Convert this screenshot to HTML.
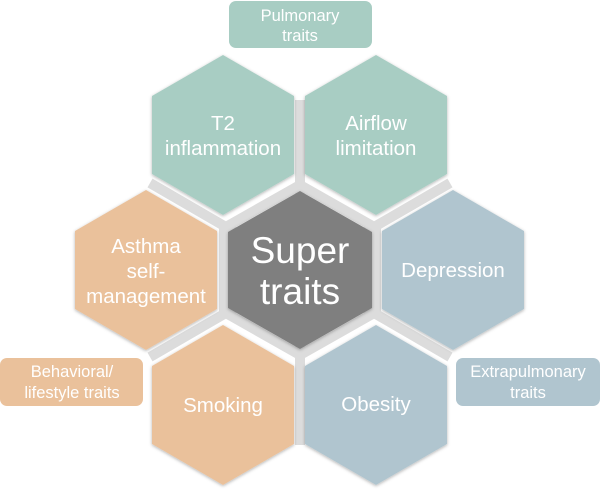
<!DOCTYPE html>
<html><head><meta charset="utf-8"><style>
html,body{margin:0;padding:0;background:#fff;width:600px;height:491px;overflow:hidden}
svg text{font-family:"Liberation Sans",sans-serif;fill:#fff;text-anchor:middle}
</style></head><body>
<svg width="600" height="491" viewBox="0 0 600 491">
<defs>
<filter id="sh" x="-10%" y="-10%" width="120%" height="120%"><feDropShadow dx="0" dy="1" stdDeviation="1.5" flood-color="#000" flood-opacity="0.3"/></filter>
</defs>
<g stroke="#dcdcdc" stroke-width="10" fill="none">
<line x1="300" y1="100" x2="300" y2="445"/>
<line x1="150" y1="183" x2="450" y2="357"/>
<line x1="150" y1="357" x2="450" y2="183"/>
<polygon points="300,185 376,228 376,312 300,355 224,312 224,228"/>
</g>
<g filter="url(#sh)">
<polygon fill="#a8cdc3" points="223,55 294,96 294,174 223,215 152,174 152,96"/>
<polygon fill="#a8cdc3" points="376,55 447,96 447,174 376,215 305,174 305,96"/>
<polygon fill="#eac19b" points="146,190 217,231 217,309 146,350 75,309 75,231"/>
<polygon fill="#7f7f7f" points="300,191 372,232 372,308 300,349 228,308 228,232"/>
<polygon fill="#b0c5cf" points="453,190 524,231 524,309 453,350 382,309 382,231"/>
<polygon fill="#eac19b" points="223,325 294,366 294,444 223,485 152,444 152,366"/>
<polygon fill="#b0c5cf" points="376,325 447,366 447,444 376,485 305,444 305,366"/>
</g>
<rect x="229" y="1" width="143" height="47" rx="7" fill="#a8cdc3"/>
<rect x="0" y="358" width="143" height="48" rx="7" fill="#eac19b"/>
<rect x="456" y="358" width="144" height="48" rx="7" fill="#b0c5cf"/>
<g font-size="16.5">
<text x="300" y="21">Pulmonary</text><text x="300" y="41">traits</text>
<text x="72" y="377">Behavioral/</text><text x="72" y="398">lifestyle traits</text>
<text x="528" y="377">Extrapulmonary</text><text x="528" y="398">traits</text>
</g>
<g font-size="20.5">
<text x="223" y="130">T2</text><text x="223" y="155">inflammation</text>
<text x="376" y="130">Airflow</text><text x="376" y="155">limitation</text>
<text x="146" y="253">Asthma</text><text x="146" y="278">self-</text><text x="146" y="303">management</text>
<text x="453" y="277">Depression</text>
<text x="223" y="412">Smoking</text>
<text x="376" y="411">Obesity</text>
</g>
<g font-size="37">
<text x="300" y="263">Super</text><text x="300" y="304">traits</text>
</g>
</svg>
</body></html>
